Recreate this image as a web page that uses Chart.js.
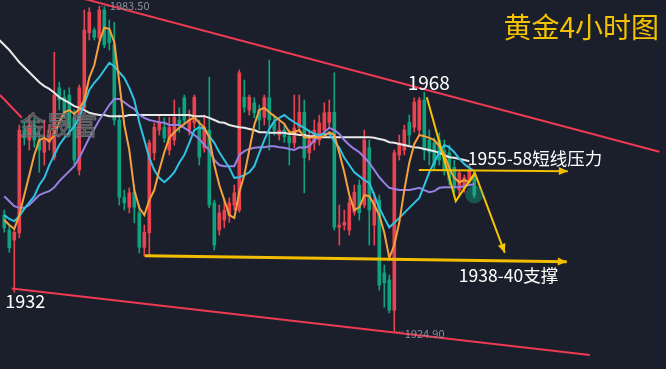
<!DOCTYPE html>
<html>
<head>
<meta charset="utf-8">
<script src="https://cdn.jsdelivr.net/npm/chart.js@4.4.0/dist/chart.umd.min.js"></script>
<style>
  html, body { margin: 0; padding: 0; background: #1a1f2b; }
  #wrap { width: 666px; height: 369px; }
</style>
</head>
<body>
<div id="wrap"><canvas id="myChart" width="666" height="369"></canvas></div>
<script>
// gold 4h candles, index 0..94
var open = [
  1945.9, 1943.2, 1941.4, 1942.7, 1961.2, 1959.4, 1962.1, 1959.4, 1957.2, 1959.0,
  1956.3, 1968.8, 1967.1, 1967.5, 1963.4, 1954.0, 1965.2, 1978.7, 1979.2, 1977.8,
  1982.8, 1979.2, 1976.5, 1963.0, 1949.1, 1947.3, 1950.0, 1946.3, 1940.1, 1942.7,
  1957.1, 1961.2, 1961.7, 1957.6, 1959.4, 1963.0, 1967.0, 1961.2, 1962.5, 1961.7,
  1958.0, 1961.2, 1948.1, 1943.2, 1945.0, 1945.9, 1947.7, 1946.8, 1967.1, 1964.8,
  1966.1, 1964.8, 1963.5, 1967.0, 1962.6, 1960.3, 1961.2, 1960.0, 1958.9, 1961.7,
  1964.4, 1957.1, 1958.9, 1959.4, 1961.2, 1962.6, 1964.4, 1943.7, 1944.1, 1943.2,
  1946.4, 1951.3, 1947.7, 1958.0, 1944.1, 1948.6, 1935.5, 1934.2, 1928.8, 1956.7,
  1957.6, 1962.6, 1961.7, 1961.2, 1966.6, 1959.4, 1958.9, 1959.4, 1957.6, 1957.1,
  1954.5, 1950.4, 1950.8, 1952.2, 1952.6
]
var high = [
  1946.8, 1944.1, 1943.6, 1962.1, 1962.6, 1963.9, 1963.4, 1960.8, 1963.0, 1962.1,
  1975.2, 1969.8, 1968.4, 1968.8, 1964.8, 1969.3, 1982.8, 1983.2, 1979.6, 1983.5,
  1983.3, 1981.0, 1980.6, 1963.9, 1950.4, 1950.8, 1951.3, 1947.7, 1944.1, 1959.4,
  1962.5, 1963.9, 1963.4, 1963.5, 1966.6, 1965.2, 1967.5, 1964.8, 1967.5, 1963.0,
  1963.9, 1970.7, 1948.6, 1947.7, 1948.6, 1949.0, 1951.3, 1972.0, 1970.2, 1967.5,
  1967.0, 1965.7, 1967.5, 1973.8, 1963.9, 1963.0, 1962.1, 1961.2, 1967.5, 1967.5,
  1966.6, 1961.2, 1963.0, 1963.9, 1966.1, 1966.6, 1971.5, 1947.7, 1946.8, 1949.0,
  1951.3, 1952.2, 1961.2, 1959.4, 1949.9, 1949.5, 1936.9, 1935.1, 1957.6, 1960.3,
  1962.1, 1963.9, 1967.0, 1967.1, 1968.0, 1961.2, 1959.8, 1960.7, 1959.4, 1958.5,
  1955.8, 1954.0, 1953.1, 1954.9, 1953.6
]
var low = [
  1942.8, 1939.2, 1932.0, 1941.8, 1958.5, 1957.6, 1958.1, 1953.6, 1954.9, 1957.6,
  1955.8, 1964.8, 1963.4, 1960.3, 1954.9, 1953.1, 1964.8, 1977.4, 1977.4, 1977.4,
  1976.0, 1975.6, 1962.1, 1947.7, 1946.8, 1946.3, 1944.5, 1939.1, 1938.5, 1938.5,
  1955.8, 1960.3, 1959.0, 1956.7, 1958.5, 1960.8, 1962.1, 1960.3, 1961.6, 1954.9,
  1957.2, 1947.2, 1939.6, 1942.3, 1943.6, 1944.6, 1946.8, 1946.4, 1964.4, 1963.9,
  1963.4, 1961.2, 1962.1, 1957.6, 1960.3, 1959.4, 1959.0, 1954.9, 1958.0, 1960.8,
  1949.9, 1955.8, 1957.6, 1958.5, 1960.3, 1961.6, 1943.2, 1940.5, 1943.2, 1942.3,
  1945.9, 1945.0, 1947.2, 1940.5, 1940.5, 1932.4, 1929.3, 1928.3, 1924.9, 1955.8,
  1956.7, 1958.5, 1960.8, 1960.3, 1955.8, 1954.9, 1954.0, 1954.9, 1953.1, 1951.3,
  1949.9, 1949.5, 1950.0, 1951.7, 1949.0
]
var close = [
  1943.6, 1940.0, 1942.8, 1961.2, 1959.8, 1962.1, 1959.4, 1957.6, 1959.4, 1961.2,
  1967.5, 1966.6, 1964.4, 1961.6, 1955.8, 1968.8, 1979.2, 1982.4, 1977.9, 1982.8,
  1976.5, 1976.9, 1963.0, 1949.1, 1948.1, 1949.9, 1947.3, 1940.1, 1942.8, 1958.9,
  1961.7, 1962.5, 1959.8, 1961.7, 1963.5, 1962.1, 1963.0, 1963.0, 1967.1, 1956.3,
  1961.7, 1947.7, 1940.5, 1946.3, 1946.8, 1948.1, 1949.9, 1971.5, 1965.3, 1967.1,
  1964.3, 1963.0, 1967.0, 1963.0, 1961.2, 1961.2, 1960.0, 1958.9, 1961.6, 1964.4,
  1956.2, 1959.4, 1961.2, 1962.5, 1964.3, 1964.4, 1943.7, 1944.1, 1944.6, 1948.1,
  1950.0, 1946.3, 1959.4, 1946.8, 1948.6, 1933.3, 1933.7, 1928.8, 1957.1, 1958.9,
  1961.2, 1960.3, 1966.2, 1966.6, 1957.6, 1957.2, 1954.9, 1955.8, 1954.0, 1952.2,
  1950.9, 1953.5, 1952.6, 1954.0, 1949.5
]

// moving averages as drawn on the chart
var ma5 = [
  1945.0, 1944.1, 1943.4, 1945.9, 1949.5, 1953.1, 1956.7, 1959.4, 1959.8, 1959.2,
  1960.3, 1962.6, 1964.4, 1964.8, 1964.1, 1965.0, 1966.6, 1970.6, 1972.9, 1977.0,
  1979.6, 1979.4, 1977.0, 1969.8, 1962.1, 1957.6, 1950.4, 1947.2, 1945.9, 1948.6,
  1950.4, 1954.0, 1957.2, 1959.8, 1960.8, 1961.6, 1962.3, 1963.0, 1963.5, 1962.5,
  1961.6, 1959.9, 1954.9, 1951.3, 1948.6, 1945.9, 1945.4, 1950.0, 1953.1, 1957.6,
  1962.1, 1964.8, 1965.2, 1964.4, 1963.7, 1963.0, 1962.3, 1960.8, 1960.8, 1961.2,
  1959.9, 1959.8, 1959.9, 1959.9, 1960.1, 1960.8, 1960.3, 1957.1, 1953.6, 1949.5,
  1946.8, 1947.3, 1949.5, 1949.3, 1947.7, 1945.9, 1942.7, 1938.2, 1940.5, 1944.6,
  1950.4, 1955.3, 1958.7, 1960.3, 1960.1, 1959.8, 1959.4, 1958.3, 1956.7, 1954.4,
  1952.6, 1951.8, 1952.2, 1951.8, 1953.1
]
var ma10 = [
  1945.9, 1945.2, 1944.8, 1945.7, 1947.0, 1948.2, 1949.3, 1951.3, 1952.6, 1954.9,
  1956.7, 1958.5, 1959.8, 1960.8, 1961.9, 1963.4, 1965.9, 1968.4, 1969.7, 1970.7,
  1972.0, 1973.3, 1972.7, 1971.6, 1970.6, 1968.8, 1966.6, 1962.6, 1959.4, 1956.2,
  1954.0, 1952.6, 1951.8, 1952.6, 1953.6, 1955.3, 1956.7, 1958.9, 1961.2, 1961.7,
  1961.4, 1960.1, 1958.9, 1957.2, 1955.8, 1954.4, 1952.6, 1952.7, 1953.1, 1953.6,
  1954.7, 1957.1, 1959.4, 1961.4, 1962.8, 1963.4, 1963.9, 1963.2, 1962.6, 1962.1,
  1961.6, 1961.0, 1960.5, 1960.3, 1960.5, 1960.5, 1959.2, 1958.0, 1956.2, 1954.9,
  1953.6, 1952.9, 1952.2, 1951.7, 1949.5, 1947.2, 1945.4, 1943.7, 1944.5, 1945.4,
  1946.3, 1947.2, 1948.1, 1949.0, 1951.3, 1953.6, 1955.4, 1957.2, 1958.5, 1958.1,
  1957.2, 1956.0, 1955.1, 1954.4, 1953.8
]
var ma20 = [
  1949.3, 1948.4, 1947.5, 1947.2, 1947.2, 1947.7, 1948.6, 1949.5, 1949.9, 1950.2,
  1950.9, 1952.0, 1952.9, 1953.8, 1954.7, 1956.2, 1958.0, 1959.8, 1961.4, 1963.0,
  1964.3, 1965.7, 1966.8, 1966.8, 1966.2, 1965.5, 1965.0, 1963.9, 1963.4, 1963.0,
  1962.8, 1962.6, 1962.5, 1962.1, 1962.1, 1962.1, 1961.6, 1961.0, 1960.3, 1959.6,
  1958.5, 1957.6, 1955.8, 1954.9, 1954.7, 1954.7, 1954.7, 1956.7, 1957.4, 1957.8,
  1958.0, 1958.1, 1958.1, 1958.3, 1958.3, 1958.1, 1958.0, 1957.8, 1957.6, 1958.1,
  1958.0, 1958.3, 1959.4, 1960.1, 1960.8, 1961.6, 1961.2, 1960.5, 1959.4, 1958.5,
  1957.8, 1957.2, 1956.3, 1955.3, 1954.0, 1952.7, 1951.7, 1950.8, 1950.6, 1950.4,
  1950.4, 1950.4, 1950.6, 1950.8, 1950.4, 1950.0, 1950.2, 1950.8, 1950.9, 1950.9,
  1950.9, 1950.9, 1951.1, 1951.3, 1951.5
]
// long average starts one bar before the first visible candle
var ma60Start = -1
var ma60 = [
  1977.4, 1976.5, 1975.6, 1974.5, 1973.4, 1972.5, 1971.6, 1970.7, 1969.8, 1969.1,
  1968.6, 1967.9, 1967.1, 1966.6, 1966.1, 1965.5, 1965.2, 1964.8, 1964.3, 1964.1,
  1963.9, 1963.9, 1963.7, 1963.7, 1963.7, 1963.7, 1963.9, 1963.9, 1963.9, 1963.9,
  1963.9, 1963.9, 1963.9, 1963.9, 1963.9, 1963.9, 1963.9, 1963.9, 1963.9, 1963.7,
  1963.7, 1963.7, 1963.4, 1963.0, 1962.6, 1962.5, 1962.1, 1961.9, 1961.7, 1961.6,
  1961.4, 1961.2, 1960.8, 1960.8, 1960.7, 1960.7, 1960.7, 1960.7, 1960.5, 1960.5,
  1960.3, 1960.3, 1960.1, 1960.1, 1959.9, 1959.9, 1959.9, 1959.9, 1959.9, 1959.9,
  1959.9, 1959.9, 1959.9, 1959.9, 1959.9, 1959.8, 1959.6, 1959.4, 1959.0, 1958.9,
  1958.7, 1958.5, 1958.3, 1958.1, 1958.0, 1957.8, 1957.6, 1957.4, 1957.1, 1956.7,
  1956.3, 1956.2, 1956.0, 1955.8, 1955.6
]

// hand drawn lines: [bar index, price]
var upperTrend = [[16, 1984.8], [131, 1957.3]]
var oldTrend = [[-0.86, 1967.5], [3.5, 1963.4]]
var lowerTrend = [[1.5, 1932.7], [117.1, 1920.7]]
var supportLine = [[28.1, 1938.6], [112.5, 1937.5]]
var pressureLine = [[82.9, 1954.0], [112.7, 1953.8]]
var pathLine = [[84.5, 1967.1], [90.3, 1948.4], [94.1, 1953.5], [100.1, 1939.1]]

var upColor = '#e8434f'
var downColor = '#0fa27e'

function candleColor(i) {
  return close[i] >= open[i] ? upColor : downColor
}
function pts(arr, start) {
  return arr.map((v, i) => ({ x: i + (start || 0), y: v }))
}
function seg(arr) {
  return arr.map((p) => ({ x: p[0], y: p[1] }))
}
function lineSet(data, color, width, order, arrow) {
  return {
    type: 'line',
    data: data,
    borderColor: color,
    borderWidth: width,
    pointRadius: 0,
    tension: 0,
    fill: false,
    order: order,
    arrow: arrow || false,
  }
}

var notes = [
  { text: '1968', x: 84.9, y: 1968.4, size: 19, color: '#ffffff', align: 'center' },
  { text: '1955-58短线压力', x: 92.7, y: 1954.9, size: 17.5, color: '#ffffff', align: 'left' },
  { text: '1938-40支撑', x: 90.9, y: 1933.8, size: 17.5, color: '#ffffff', align: 'left' },
  { text: '1932', x: 0.2, y: 1929.2, size: 18, color: '#ffffff', align: 'left' },
  { text: '1983.50', x: 21.1, y: 1982.8, size: 11, color: '#8b909b', align: 'left' },
  { text: '1924.90', x: 80.1, y: 1923.8, size: 11, color: '#8b909b', align: 'left' },
]

var overlay = {
  id: 'overlay',
  afterDatasetsDraw(chart) {
    let ctx = chart.ctx
    let xs = chart.scales.x
    let ys = chart.scales.y
    ctx.save()

    // watermark
    ctx.font = '26px "Noto Sans CJK SC", sans-serif'
    ctx.textAlign = 'left'
    ctx.lineWidth = 1
    ctx.strokeStyle = 'rgba(150,150,150,0.55)'
    ctx.fillStyle = 'rgba(80,80,84,0.85)'
    ctx.fillText('金晟富', xs.getPixelForValue(3.1), ys.getPixelForValue(1960.3))
    ctx.strokeText('金晟富', xs.getPixelForValue(3.1), ys.getPixelForValue(1960.3))

    // arrow heads
    chart.data.datasets.forEach((ds, di) => {
      if (!ds.arrow) return
      let pts = chart.getDatasetMeta(di).data
      let a = pts[pts.length - 2]
      let b = pts[pts.length - 1]
      let ang = Math.atan2(b.y - a.y, b.x - a.x)
      ctx.fillStyle = ds.borderColor
      ctx.beginPath()
      ctx.moveTo(b.x, b.y)
      ctx.lineTo(b.x - 9 * Math.cos(ang) + 4 * Math.sin(ang), b.y - 9 * Math.sin(ang) - 4 * Math.cos(ang))
      ctx.lineTo(b.x - 9 * Math.cos(ang) - 4 * Math.sin(ang), b.y - 9 * Math.sin(ang) + 4 * Math.cos(ang))
      ctx.closePath()
      ctx.fill()
    })

    // dotted leaders to the high / low labels
    ctx.strokeStyle = '#8b909b'
    ctx.lineWidth = 1
    ctx.setLineDash([1, 2])
    ctx.beginPath()
    ctx.moveTo(xs.getPixelForValue(19) + 2, ys.getPixelForValue(1983.5))
    ctx.lineTo(xs.getPixelForValue(21.0), ys.getPixelForValue(1983.5))
    ctx.moveTo(xs.getPixelForValue(78) + 2, ys.getPixelForValue(1924.9))
    ctx.lineTo(xs.getPixelForValue(80.0), ys.getPixelForValue(1924.9))
    ctx.stroke()
    ctx.setLineDash([])

    notes.forEach((n) => {
      ctx.font = n.size + 'px "Noto Sans CJK SC", "Noto Sans", sans-serif'
      ctx.fillStyle = n.color
      ctx.textAlign = n.align
      ctx.textBaseline = 'alphabetic'
      ctx.fillText(n.text, xs.getPixelForValue(n.x), ys.getPixelForValue(n.y))
    })

    ctx.font = '28px "Noto Sans CJK SC", sans-serif'
    ctx.fillStyle = '#f5c200'
    ctx.textAlign = 'right'
    ctx.fillText('黄金4小时图', chart.chartArea.right - 7, chart.chartArea.top + 38)
    ctx.restore()
  },
}

let ctx = document.getElementById('myChart').getContext('2d')
let myChart = new Chart(ctx, {
  type: 'bar',
  data: {
    datasets: [
      {
        label: 'wick',
        data: low.map((l, i) => ({ x: i, y: [l, high[i]] })),
        backgroundColor: (c) => candleColor(c.dataIndex),
        barThickness: 1,
        grouped: false,
        order: 20,
      },
      {
        label: 'body',
        data: open.map((o, i) => ({ x: i, y: [o, close[i]] })),
        backgroundColor: (c) => candleColor(c.dataIndex),
        barThickness: 3,
        minBarLength: 1,
        grouped: false,
        order: 19,
      },
      lineSet(pts(ma60, ma60Start), '#e9e9e9', 2, 9),
      lineSet(pts(ma20), '#9a7fe4', 2, 8),
      lineSet(pts(ma10), '#2fc3e3', 2, 7),
      lineSet(pts(ma5), '#f6a13c', 2, 6),
      lineSet(seg(upperTrend), '#ee3a52', 2, 3),
      lineSet(seg(oldTrend), '#ee3a52', 2, 3),
      lineSet(seg(lowerTrend), '#ee3a52', 2, 3),
      lineSet(seg(supportLine), '#f3bd00', 3, 2, true),
      lineSet(seg(pressureLine), '#f3bd00', 2, 2, true),
      lineSet(seg(pathLine), '#f7c400', 2, 1, true),
      {
        type: 'line',
        data: [{ x: 94, y: 1949.6 }],
        showLine: false,
        pointRadius: 9,
        pointBackgroundColor: 'rgba(30,190,150,0.35)',
        pointBorderWidth: 0,
        order: 0,
      },
    ],
  },
  options: {
    responsive: false,
    animation: false,
    layout: { padding: 0, autoPadding: false },
    plugins: { legend: { display: false }, tooltip: { enabled: false } },
    scales: {
      x: { type: 'linear', min: -0.86, max: 132.34, offset: false, display: false },
      y: { type: 'linear', min: 1918.2, max: 1984.6, display: false },
    },
  },
  plugins: [overlay],
})
</script>
</body>
</html>
